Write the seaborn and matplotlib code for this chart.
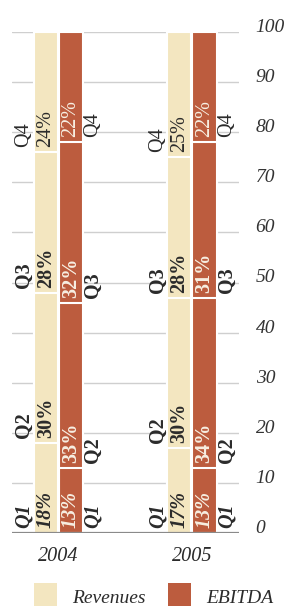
import numpy as np
import pandas as pd
import seaborn as sns
import matplotlib.pyplot as plt
from matplotlib.patches import Rectangle

years = ["2004", "2005"]
metrics = ["Revenues", "EBITDA"]
quarters = ["Q1", "Q2", "Q3", "Q4"]
revenues = {"2004": [18, 30, 28, 24], "2005": [17, 30, 28, 25]}
ebitda = {"2004": [13, 33, 32, 22], "2005": [13, 34, 31, 22]}
yticks = [0, 10, 20, 30, 40, 50, 60, 70, 80, 90, 100]

colors = {"Revenues": "#F3E6C0", "EBITDA": "#BC5C3E"}
text_dark = "#2b2b2b"

sns.set_style("white")
plt.rcParams["font.family"] = ["Liberation Serif", "DejaVu Serif"]

rows = []
for y in years:
    for m, src in (("Revenues", revenues), ("EBITDA", ebitda)):
        cum = np.cumsum(src[y])
        for q, c in zip(quarters, cum):
            rows.append({"year": y, "metric": m, "quarter": q, "cum": c})
df = pd.DataFrame(rows)

fig = plt.figure(figsize=(2.87, 6.08), dpi=100)
ax = fig.add_axes([12 / 287, 75 / 608, 227 / 287, 501 / 608])

for y in yticks[1:]:
    ax.axhline(y, color="#cfcfcf", lw=1, zorder=0)

# stacked look: tallest cumulative bar first, shorter ones drawn over it
for q in quarters[::-1]:
    sub = df[df["quarter"] == q]
    sns.barplot(data=sub, x="year", y="cum", hue="metric", hue_order=metrics,
                order=years, palette=colors, saturation=1, width=0.375, gap=0.04,
                edgecolor="white", linewidth=1.5, legend=False, ax=ax, zorder=2)

ax.set_xlim(-0.348, 1.352)
ax.set_ylim(0, 100)
ax.axhline(0, color="#8a8a8a", lw=1.6, zorder=3)

off = 0.0936
qoff = 0.165
fs = 14.5
for i, y in enumerate(years):
    for m, src, sign in (("Revenues", revenues, -1), ("EBITDA", ebitda, 1)):
        vals = src[y]
        bottoms = np.concatenate([[0], np.cumsum(vals)[:-1]])
        xc = i + sign * off
        xq = xc + sign * qoff
        col = text_dark if m == "Revenues" else "#f7efe2"
        for k, (q, v, b) in enumerate(zip(quarters, vals, bottoms)):
            weight = "normal" if k == 3 else "bold"
            style = "italic" if k == 0 else "normal"
            ax.text(xc, b + 1.0, f"{v}%", rotation=90, ha="center", va="bottom",
                    color=col, fontsize=fs, fontweight=weight, fontstyle=style, zorder=4)
            ax.text(xq, b + 1.0, q, rotation=90, ha="center", va="bottom",
                    color=text_dark, fontsize=fs, fontweight=weight, fontstyle=style, zorder=4)

ax.yaxis.tick_right()
ax.set_yticks(yticks)
ax.set_yticklabels([str(t) for t in yticks], fontsize=14, fontstyle="italic",
                   color="#333333", ha="left", va="baseline")
ax.tick_params(axis="y", length=0, pad=12)
ax.tick_params(axis="x", length=0, pad=10)
ax.set_xticks([0, 1])
ax.set_xticklabels(years, fontsize=14.5, fontstyle="italic", color=text_dark)
ax.set_xlabel("")
ax.set_ylabel("")
sns.despine(ax=ax, left=True, right=True, top=True, bottom=True)

# legend
for x0, m in ((34, "Revenues"), (168, "EBITDA")):
    fig.add_artist(Rectangle((x0 / 287, 2 / 608), 23 / 287, 23 / 608,
                             transform=fig.transFigure, color=colors[m], lw=0))
    fig.text((x0 + 38) / 287, 1 / 608, m, fontsize=14, fontstyle="italic",
             color=text_dark, ha="left", va="bottom")

fig.savefig("out.png", dpi=100)
